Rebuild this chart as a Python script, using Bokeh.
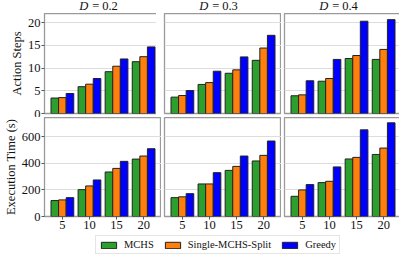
from bokeh.plotting import figure
from bokeh.layouts import gridplot, column
from bokeh.models import (ColumnDataSource, FactorRange, Range1d, Legend,
                          LegendItem, FixedTicker, Div)
from bokeh.transform import dodge
from bokeh.embed import file_html
from bokeh.resources import INLINE

sizes = ["5", "10", "15", "20"]
densities = ["0.2", "0.3", "0.4"]
series = ["MCHS", "Single-MCHS-Split", "Greedy"]
colors = ["#2ca02c", "#ff7f0e", "#0000ff"]

steps_mchs = [[3.4, 5.9, 9.2, 11.4], [3.6, 6.4, 8.85, 11.7], [3.9, 7.1, 12.1, 11.9]]
steps_split = [[3.5, 6.45, 10.4, 12.5], [3.95, 6.8, 9.6, 14.4], [4.1, 7.7, 12.75, 14.1]]
steps_greedy = [[4.4, 7.7, 12.0, 14.65], [5.05, 9.3, 12.45, 17.2], [7.2, 11.9, 20.3, 20.65]]

time_mchs = [[120, 202, 335, 432], [142, 245, 347, 418], [152, 255, 433, 467]]
time_split = [[125, 230, 362, 455], [148, 245, 377, 460], [200, 265, 445, 515]]
time_greedy = [[142, 275, 415, 510], [172, 330, 455, 568], [240, 373, 652, 705]]

step_ticks = [0, 5, 10, 15, 20]
time_ticks = [0, 200, 400, 600]

FONT = "Liberation Serif"
FW = 117
LEFT = 39
GAP = 3
BW = 0.28
TXT = "#111111"


def make_panel(row, col, vals, ymax, yticks, ylabel):
    left = LEFT if col == 0 else GAP
    right = 3 if col == 2 else 0
    if row == 0:
        top, fh, bottom = 0, 100, 4
    else:
        top, fh, bottom = 0, 99, 17
    p = figure(x_range=FactorRange(*sizes, range_padding=0.08),
               y_range=Range1d(0, ymax), frame_width=FW, frame_height=fh,
               min_border_left=left, min_border_right=right,
               min_border_top=top, min_border_bottom=bottom,
               output_backend="svg", toolbar_location=None)
    src = ColumnDataSource(dict(x=sizes, a=vals[0][col], b=vals[1][col], c=vals[2][col]))
    for off, key, colr in zip([-BW, 0, BW], ["a", "b", "c"], colors):
        p.vbar(x=dodge("x", off, range=p.x_range), top=key, width=BW, source=src,
               fill_color=colr, line_color="#222222", line_width=1)
    p.outline_line_color = "#9a9a9a"
    p.outline_line_width = 1.3
    p.xgrid.visible = False
    p.ygrid.grid_line_color = "#dddddd"
    p.ygrid.grid_line_width = 1
    p.yaxis.ticker = FixedTicker(ticks=yticks)
    p.yaxis.minor_tick_line_color = None
    if col == 0:
        ya = p.yaxis[0]
        ya.axis_line_color = None
        ya.major_tick_out = 3
        ya.major_tick_in = 0
        ya.major_tick_line_color = "#555555"
        ya.major_label_standoff = 1
        ya.major_label_text_font = FONT
        ya.major_label_text_font_size = "12.5px"
        ya.major_label_text_color = TXT
        ya.axis_label = ylabel
        ya.axis_label_text_font = FONT
        ya.axis_label_text_font_size = "12.5px"
        ya.axis_label_text_font_style = "normal"
        ya.axis_label_standoff = 1
        ya.axis_label_text_color = TXT
    else:
        p.yaxis.visible = False
    if row == 1:
        xa = p.xaxis[0]
        xa.axis_line_color = None
        xa.major_tick_out = 3
        xa.major_tick_in = 0
        xa.major_tick_line_color = "#555555"
        xa.major_label_standoff = 1
        xa.major_label_text_font = FONT
        xa.major_label_text_font_size = "12.5px"
        xa.major_label_text_color = TXT
    else:
        p.xaxis.visible = False
    return p


top_row = [make_panel(0, c, [steps_mchs, steps_split, steps_greedy], 22, step_ticks, "Action Steps")
           for c in range(3)]
bot_row = [make_panel(1, c, [time_mchs, time_split, time_greedy], 745, time_ticks, "Execution Time (s)")
           for c in range(3)]

grid = gridplot([top_row, bot_row], toolbar_location=None)

TOTAL_W = LEFT + 3 * FW + 2 * GAP + 3

# header with panel titles (real HTML text, italic D)
spans = []
for i, d in enumerate(densities):
    c = LEFT + i * (FW + GAP) + FW / 2 + 1
    spans.append(
        f'<span style="position:absolute;left:{c - 40:.1f}px;top:0px;width:80px;'
        f'text-align:center;white-space:nowrap;">'
        f'<i>D</i><span style="padding:0 3px 0 4px;">=</span>{d}</span>')
header_html = (f'<div style="position:relative;width:{TOTAL_W}px;height:13px;'
               f'font-family:\'{FONT}\';font-size:12.5px;line-height:13px;'
               f'font-weight:normal;color:{TXT};">'
               + "".join(spans) + '</div>')
hf = Div(text=header_html, width=TOTAL_W, height=13, margin=0)

# legend figure
lf = figure(width=TOTAL_W, height=23, output_backend="svg", toolbar_location=None,
            min_border=0, x_range=Range1d(0, 1), y_range=Range1d(0, 1))
lf.axis.visible = False
lf.grid.visible = False
lf.outline_line_color = None
items = []
for name, colr in zip(series, colors):
    r = lf.vbar(x=[5], top=[5], width=0.1, fill_color=colr, line_color="#222222", line_width=1)
    items.append(LegendItem(label=name, renderers=[r]))
leg = Legend(items=items, orientation="horizontal", location=(95, 2),
             label_text_font=FONT, label_text_font_size="10.5px", label_text_color=TXT,
             glyph_width=19, glyph_height=8, label_standoff=6, spacing=9,
             padding=3, margin=0, border_line_color="#cccccc", border_line_width=1,
             label_height=11)
lf.add_layout(leg, "center")

layout = column(hf, grid, lf, spacing=0)

open("out.html", "w").write(file_html(layout, INLINE))
